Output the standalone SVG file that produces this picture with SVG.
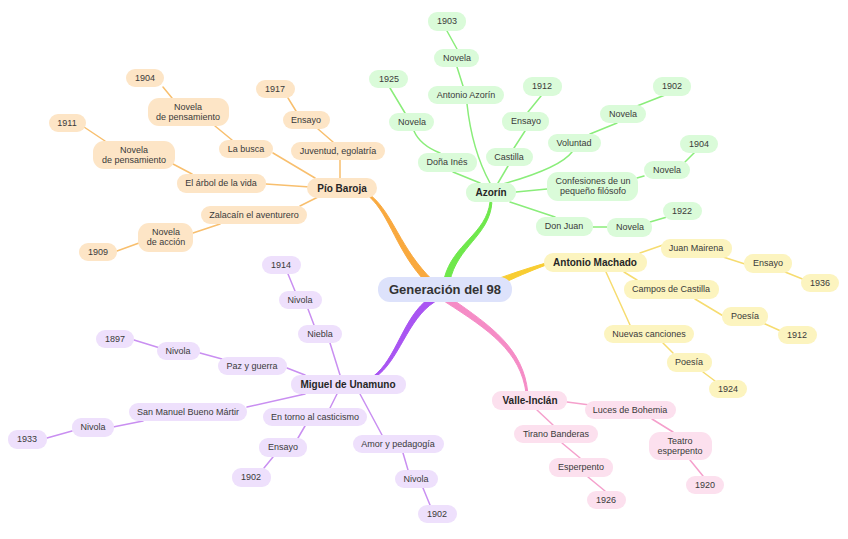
<svg xmlns="http://www.w3.org/2000/svg" width="848" height="539" viewBox="0 0 848 539">
<style>
text{font-family:"Liberation Sans",Arial,sans-serif;font-size:9px;fill:#3a3a3a;text-anchor:middle}
.b{font-weight:bold;font-size:10px;fill:#262626}
.c{font-weight:bold;font-size:13px;fill:#333}
.o rect{fill:#fde5c6}.g rect{fill:#dafbd9}.y rect{fill:#fcf4bf}.p rect{fill:#eee0fc}.k rect{fill:#fce0ee}
#links path{fill:none;stroke-width:1.5;stroke-linecap:round}
.lo{stroke:#f8bf6e}.lg{stroke:#8aed7a}.ly{stroke:#f6dc70}.lp{stroke:#c98ff1}.lk{stroke:#f5a0cc}
#trunks path{stroke-width:1;stroke-linejoin:round}
</style>
<rect width="848" height="539" fill="#fff"/>
<g id="links">
<path class="lo" d="M163,87 L172,98 M215,126 L232,140 M273,153 L315,178 M288,98 L296,111 M318,129 L333,142 M340,160 L340,178 M84,127 L105,141 M173,164 L192,174 M266,184 L310,187 M300,206 L318,197 M193,233 L220,224 M117,251 L139,243"/>
<path class="lg" d="M447,31 L457,49 M457,67 L463,86 M467,104 Q472,150 490,183 M390,88 L405,113 M414,131 Q420,145 440,153 M453,172 L480,183 M541,96 L528,112 M525,131 L514,148 M508,166 L498,183 M665,95 L637,106 M617,123 L590,134 M572,152 Q560,168 503,184 M695,152 L685,162 M644,176 L637,178 M547,189 L516,192 M667,217 L650,222 M607,227 L593,227 M555,217 L510,202"/>
<path class="ly" d="M640,253 L663,245 M720,256 L748,265 M785,272 L805,280 M624,272 L637,280 M695,299 L725,317 M763,323 L783,332 M606,272 L630,325 M663,343 L673,353 M703,372 L715,381"/>
<path class="lp" d="M288,274 L295,291 M308,309 L314,325 M330,343 L340,375 M134,340 L160,348 M200,353 L222,359 M287,368 L305,375 M305,394 L247,407 M143,421 L113,427 M72,431 L47,438 M337,394 L330,408 M305,426 L298,438 M273,457 L264,468 M360,394 L382,435 M403,453 L408,470 M423,488 L430,505"/>
<path class="lk" d="M567,402 L590,405 M652,419 L673,432 M690,460 L703,476 M537,410 L553,425 M562,443 L580,458 M588,477 L605,491"/>
</g>
<g id="trunks">
<path fill="#f9a93e" stroke="#f9a93e" d="M370.8,195.4 C393.4,214.0 400.0,248.6 432.6,280.2 L427.4,283.8 C396.0,251.4 390.6,216.0 369.2,196.6 Z"/>
<path fill="#6fe84c" stroke="#6fe84c" d="M491.9,202.5 C489.5,235.8 457.1,246.2 449.8,281.6 L444.2,278.4 C452.9,243.8 486.5,234.2 490.1,201.5 Z"/>
<path fill="#f8cd32" stroke="#f8cd32" d="M546.4,264.9 C528.6,271.6 515.8,277.3 499.1,285.0 L496.9,279.0 C514.2,272.8 527.4,268.4 545.6,263.1 Z"/>
<path fill="#a955f2" stroke="#a955f2" d="M374.8,377.6 C399.4,361.0 406.9,319.4 434.6,301.9 L429.4,298.1 C403.1,316.6 396.6,359.0 373.2,376.4 Z"/>
<path fill="#f58cc6" stroke="#f58cc6" d="M527.8,392.4 C523.3,348.9 491.8,326.4 450.4,297.9 L445.6,302.1 C488.2,329.6 520.7,351.1 526.2,393.7 Z"/>
</g>
<g id="center"><rect x="378" y="277" width="134" height="25" rx="12" fill="#dde2fb"/><text class="c" x="445" y="294">Generación del 98</text></g>

<g class="o">
<g id="o_1904"><rect x="126" y="69" width="38" height="18" rx="9"/><text x="145" y="81">1904</text></g>
<g id="o_np1"><rect x="148" y="98" width="81" height="28" rx="11"/><text x="188" y="110">Novela</text><text x="188" y="120">de pensamiento</text></g>
<g id="o_1917"><rect x="256" y="80" width="39" height="18" rx="9"/><text x="275" y="92">1917</text></g>
<g id="o_ensayo"><rect x="283" y="111" width="47" height="18" rx="9"/><text x="306" y="123">Ensayo</text></g>
<g id="o_1911"><rect x="49" y="114" width="37" height="18" rx="9"/><text x="67" y="126">1911</text></g>
<g id="o_np2"><rect x="93" y="141" width="82" height="28" rx="11"/><text x="134" y="153">Novela</text><text x="134" y="163">de pensamiento</text></g>
<g id="o_labusca"><rect x="219" y="140" width="54" height="18" rx="9"/><text x="246" y="152">La busca</text></g>
<g id="o_juventud"><rect x="291" y="142" width="94" height="18" rx="9"/><text x="338" y="154">Juventud, egolatría</text></g>
<g id="o_arbol"><rect x="177" y="174" width="89" height="19" rx="9"/><text x="221" y="186">El árbol de la vida</text></g>
<g id="o_pio"><rect x="307" y="178" width="70" height="20" rx="10"/><text class="b" x="342" y="192">Pío Baroja</text></g>
<g id="o_zalacain"><rect x="201" y="206" width="106" height="18" rx="9"/><text x="254" y="218">Zalacaín el aventurero</text></g>
<g id="o_accion"><rect x="138" y="223" width="55" height="29" rx="11"/><text x="166" y="235">Novela</text><text x="166" y="245">de acción</text></g>
<g id="o_1909"><rect x="79" y="243" width="38" height="18" rx="9"/><text x="98" y="255">1909</text></g>
</g>

<g class="g">
<g id="g_1903"><rect x="428" y="12" width="38" height="19" rx="9"/><text x="447" y="24">1903</text></g>
<g id="g_nov1"><rect x="434" y="49" width="45" height="18" rx="9"/><text x="457" y="61">Novela</text></g>
<g id="g_1925"><rect x="369" y="70" width="39" height="18" rx="9"/><text x="389" y="82">1925</text></g>
<g id="g_aazorin"><rect x="428" y="86" width="76" height="18" rx="9"/><text x="466" y="98">Antonio Azorín</text></g>
<g id="g_1912"><rect x="523" y="77" width="39" height="19" rx="9"/><text x="542" y="89">1912</text></g>
<g id="g_1902"><rect x="653" y="77" width="38" height="19" rx="9"/><text x="672" y="89">1902</text></g>
<g id="g_nov2"><rect x="389" y="113" width="45" height="18" rx="9"/><text x="412" y="125">Novela</text></g>
<g id="g_ensayo"><rect x="502" y="112" width="47" height="19" rx="9"/><text x="526" y="124">Ensayo</text></g>
<g id="g_nov3"><rect x="600" y="105" width="46" height="18" rx="9"/><text x="623" y="117">Novela</text></g>
<g id="g_voluntad"><rect x="548" y="134" width="53" height="18" rx="9"/><text x="574" y="146">Voluntad</text></g>
<g id="g_1904"><rect x="680" y="135" width="38" height="18" rx="9"/><text x="699" y="147">1904</text></g>
<g id="g_dona"><rect x="418" y="153" width="59" height="19" rx="9"/><text x="447" y="165">Doña Inés</text></g>
<g id="g_castilla"><rect x="486" y="148" width="47" height="18" rx="9"/><text x="509" y="160">Castilla</text></g>
<g id="g_nov4"><rect x="644" y="161" width="46" height="18" rx="9"/><text x="667" y="173">Novela</text></g>
<g id="g_conf"><rect x="547" y="172" width="91" height="29" rx="11"/><text x="593" y="184">Confesiones de un</text><text x="593" y="194">pequeño filósofo</text></g>
<g id="g_azorin"><rect x="466" y="183" width="50" height="19" rx="9"/><text class="b" x="491" y="196">Azorín</text></g>
<g id="g_1922"><rect x="663" y="202" width="39" height="18" rx="9"/><text x="682" y="214">1922</text></g>
<g id="g_donjuan"><rect x="536" y="217" width="57" height="19" rx="9"/><text x="564" y="229">Don Juan</text></g>
<g id="g_nov5"><rect x="607" y="218" width="45" height="19" rx="9"/><text x="630" y="230">Novela</text></g>
</g>

<g class="y">
<g id="y_machado"><rect x="544" y="253" width="103" height="19" rx="9"/><text class="b" x="595" y="266">Antonio Machado</text></g>
<g id="y_mairena"><rect x="661" y="239" width="71" height="19" rx="9"/><text x="696" y="251">Juan Mairena</text></g>
<g id="y_ensayo"><rect x="744" y="254" width="48" height="19" rx="9"/><text x="768" y="266">Ensayo</text></g>
<g id="y_1936"><rect x="801" y="274" width="38" height="18" rx="9"/><text x="820" y="286">1936</text></g>
<g id="y_campos"><rect x="624" y="280" width="95" height="19" rx="9"/><text x="671" y="292">Campos de Castilla</text></g>
<g id="y_poesia1"><rect x="722" y="307" width="46" height="19" rx="9"/><text x="745" y="319">Poesía</text></g>
<g id="y_1912"><rect x="778" y="326" width="39" height="18" rx="9"/><text x="797" y="338">1912</text></g>
<g id="y_nuevas"><rect x="604" y="325" width="90" height="18" rx="9"/><text x="649" y="337">Nuevas canciones</text></g>
<g id="y_poesia2"><rect x="667" y="353" width="45" height="19" rx="9"/><text x="689" y="365">Poesía</text></g>
<g id="y_1924"><rect x="709" y="380" width="38" height="18" rx="9"/><text x="728" y="392">1924</text></g>
</g>

<g class="p">
<g id="p_1914"><rect x="262" y="256" width="39" height="18" rx="9"/><text x="281" y="268">1914</text></g>
<g id="p_nivola1"><rect x="279" y="291" width="43" height="18" rx="9"/><text x="300" y="303">Nivola</text></g>
<g id="p_niebla"><rect x="298" y="325" width="44" height="18" rx="9"/><text x="320" y="337">Niebla</text></g>
<g id="p_1897"><rect x="96" y="330" width="38" height="18" rx="9"/><text x="115" y="342">1897</text></g>
<g id="p_nivola2"><rect x="157" y="342" width="43" height="18" rx="9"/><text x="178" y="354">Nivola</text></g>
<g id="p_paz"><rect x="218" y="357" width="69" height="18" rx="9"/><text x="252" y="369">Paz y guerra</text></g>
<g id="p_miguel"><rect x="291" y="375" width="115" height="19" rx="9"/><text class="b" x="348" y="388">Miguel de Unamuno</text></g>
<g id="p_sanmanuel"><rect x="129" y="403" width="118" height="18" rx="9"/><text x="188" y="415">San Manuel Bueno Mártir</text></g>
<g id="p_entorno"><rect x="263" y="408" width="104" height="18" rx="9"/><text x="315" y="420">En torno al casticismo</text></g>
<g id="p_nivola3"><rect x="72" y="418" width="42" height="19" rx="9"/><text x="93" y="430">Nivola</text></g>
<g id="p_1933"><rect x="8" y="430" width="39" height="19" rx="9"/><text x="27" y="442">1933</text></g>
<g id="p_ensayo"><rect x="259" y="438" width="48" height="19" rx="9"/><text x="283" y="450">Ensayo</text></g>
<g id="p_amor"><rect x="353" y="435" width="91" height="18" rx="9"/><text x="398" y="447">Amor y pedagogía</text></g>
<g id="p_1902a"><rect x="232" y="468" width="39" height="19" rx="9"/><text x="251" y="480">1902</text></g>
<g id="p_nivola4"><rect x="395" y="470" width="43" height="18" rx="9"/><text x="416" y="482">Nivola</text></g>
<g id="p_1902b"><rect x="418" y="505" width="39" height="18" rx="9"/><text x="437" y="517">1902</text></g>
</g>

<g class="k">
<g id="k_valle"><rect x="492" y="391" width="75" height="19" rx="9"/><text class="b" x="530" y="404">Valle-Inclán</text></g>
<g id="k_luces"><rect x="585" y="401" width="91" height="18" rx="9"/><text x="630" y="413">Luces de Bohemia</text></g>
<g id="k_tirano"><rect x="514" y="425" width="84" height="18" rx="9"/><text x="556" y="437">Tirano Banderas</text></g>
<g id="k_teatro"><rect x="649" y="432" width="63" height="28" rx="11"/><text x="680" y="444">Teatro</text><text x="680" y="454">esperpento</text></g>
<g id="k_esperpento"><rect x="549" y="458" width="64" height="19" rx="9"/><text x="581" y="470">Esperpento</text></g>
<g id="k_1920"><rect x="686" y="476" width="38" height="18" rx="9"/><text x="705" y="488">1920</text></g>
<g id="k_1926"><rect x="587" y="491" width="39" height="18" rx="9"/><text x="606" y="503">1926</text></g>
</g>
</svg>
